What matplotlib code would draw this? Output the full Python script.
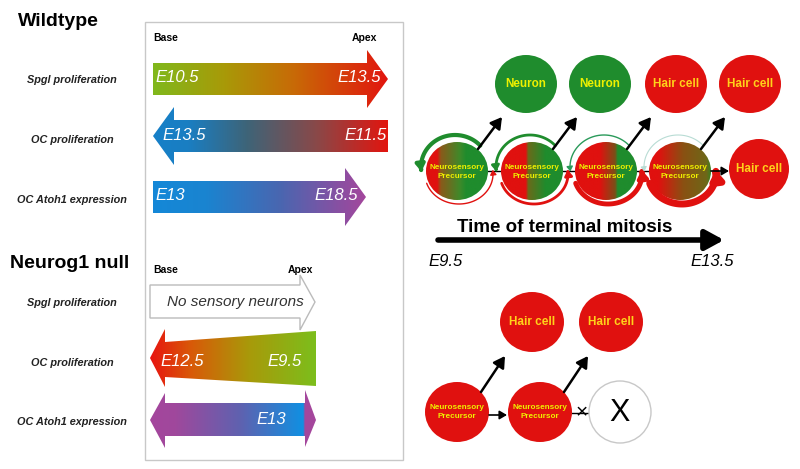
import numpy as np
import matplotlib
matplotlib.use('Agg')
import matplotlib.pyplot as plt
from matplotlib.patches import Polygon, Ellipse, Rectangle, FancyArrowPatch
from matplotlib.colors import LinearSegmentedColormap
from matplotlib.path import Path

plt.rcParams['font.family'] = ['Liberation Sans', 'DejaVu Sans']

# labels and stage values
row_labels = ['Spgl proliferation', 'OC proliferation', 'OC Atoh1 expression']
wt_stages = [('E10.5', 'E13.5'), ('E13.5', 'E11.5'), ('E13', 'E18.5')]
null_stages = [('E12.5', 'E9.5'), ('', 'E13')]
top_cells = ['Neuron', 'Neuron', 'Hair cell', 'Hair cell']
bottom_cells = ['Hair cell', 'Hair cell']
time_range = ['E9.5', 'E13.5']

RED = '#e0110f'
GREEN = '#1f8c2d'
YEL_N = '#eef000'
YEL_H = '#ffd21a'

fig = plt.figure(figsize=(8, 4.69), dpi=100)
ax = fig.add_axes([0, 0, 1, 1])
ax.axis('off')


def grad_poly(verts, stops, ec='none'):
    poly = Polygon(verts, closed=True, facecolor='none', edgecolor=ec, lw=1, zorder=3)
    ax.add_patch(poly)
    xs = [v[0] for v in verts]; ys = [v[1] for v in verts]
    cm = LinearSegmentedColormap.from_list('g', stops)
    im = ax.imshow(np.linspace(0, 1, 256).reshape(1, -1), cmap=cm, aspect='auto',
                   extent=(min(xs), max(xs), max(ys), min(ys)), zorder=2)
    im.set_clip_path(poly)


def grad_cell(cx, cy, rx, ry, stops):
    e = Ellipse((cx, cy), 2 * rx, 2 * ry, facecolor='none', edgecolor='none')
    ax.add_patch(e)
    cm = LinearSegmentedColormap.from_list('c', stops)
    im = ax.imshow(np.linspace(0, 1, 256).reshape(1, -1), cmap=cm, aspect='auto',
                   extent=(cx - rx, cx + rx, cy + ry, cy - ry), zorder=2)
    im.set_clip_path(e)


def cell(cx, cy, color, text, tcolor, fs=8.5, rx=31, ry=29):
    ax.add_patch(Ellipse((cx, cy), 2 * rx, 2 * ry, facecolor=color, edgecolor='none', zorder=2))
    ax.text(cx, cy, text, color=tcolor, fontsize=fs, fontweight='bold', ha='center', va='center',
            linespacing=1.35, zorder=5)


def arc(cx, cy, rx, ry, t0, t1, color, lw):
    t = np.radians(np.linspace(t0, t1, 60))
    verts = np.column_stack([cx + rx * np.cos(t), cy - ry * np.sin(t)])
    p = FancyArrowPatch(path=Path(verts), arrowstyle='-|>,head_length=0.45,head_width=0.3',
                        lw=lw, color=color, mutation_scale=5 + 1.2 * lw, zorder=4)
    ax.add_patch(p)


def arrow(x0, y0, x1, y1, lw=1.8, ms=12):
    ax.annotate('', xy=(x1, y1), xytext=(x0, y0), zorder=4,
                arrowprops=dict(arrowstyle='-|>,head_length=0.55,head_width=0.32', lw=lw,
                                color='k', mutation_scale=ms, shrinkA=0, shrinkB=0))


# ---- left panel
ax.add_patch(Rectangle((145, 22), 258, 438, facecolor='none', edgecolor='#c8c8c8', lw=1))
ax.text(18, 22, 'Wildtype', fontsize=14, fontweight='bold', va='center')
ax.text(10, 263, 'Neurog1 null', fontsize=14, fontweight='bold', va='center')
for x, y, s in [(153, 38, 'Base'), (352, 38, 'Apex'), (153, 270, 'Base'), (288, 270, 'Apex')]:
    ax.text(x, y, s, fontsize=7.5, fontweight='bold', va='center')
for y, lab in zip([80, 140, 200], row_labels):
    ax.text(72, y, lab, fontsize=7.8, fontweight='bold', style='italic', ha='center', va='center', color='#222')
for y, lab in zip([303, 363, 422], row_labels):
    ax.text(72, y, lab, fontsize=7.8, fontweight='bold', style='italic', ha='center', va='center', color='#222')

grad_poly([(153, 63), (367, 63), (367, 50), (388, 79), (367, 108), (367, 95), (153, 95)],
          [(0, '#80b81c'), (0.3, '#a89a08'), (0.6, '#c86a06'), (1, '#e2150f')])
grad_poly([(153, 136), (174, 107), (174, 120), (388, 120), (388, 152), (174, 152), (174, 165)],
          [(0, '#1680c8'), (0.15, '#1a7ec2'), (0.4, '#3e6478'), (0.7, '#8a4848'), (1, '#e2150f')])
grad_poly([(153, 181), (345, 181), (345, 168), (366, 197), (345, 226), (345, 213), (153, 213)],
          [(0, '#1488d8'), (0.25, '#1a84d0'), (0.6, '#4a66b0'), (1, '#a4469c')])
grad_poly([(150, 358), (165, 329), (165, 342), (316, 331), (316, 386), (165, 377), (165, 387)],
          [(0, '#e81410'), (0.25, '#d85a08'), (0.6, '#a89a0a'), (1, '#7cbe1c')])
grad_poly([(150, 420), (165, 393), (165, 403), (305, 403), (305, 390), (316, 420), (305, 447),
           (305, 436), (165, 436), (165, 448)],
          [(0, '#a4469c'), (0.15, '#a0489c'), (0.55, '#5e62b0'), (0.925, '#1090e2'),
           (0.935, '#a4469c'), (1, '#a4469c')])
ax.add_patch(Polygon([(150, 285), (300, 285), (300, 275), (315, 302), (300, 330), (300, 318), (150, 318)],
                     closed=True, facecolor='white', edgecolor='#bbbbbb', lw=1, zorder=3))
ax.text(235, 302, 'No sensory neurons', fontsize=11, style='italic', color='#333', ha='center', va='center', zorder=5)

ekw = dict(fontsize=12, style='italic', color='white', va='center', zorder=5)
for y, (a, b), xr in zip([78, 136, 196], wt_stages, [381, 387, 358]):
    ax.text(155 if y != 136 else 162, y, a, ha='left', **ekw)
    ax.text(xr, y, b, ha='right', **ekw)
ax.text(160, 362, null_stages[0][0], ha='left', **ekw)
ax.text(302, 362, null_stages[0][1], ha='right', **ekw)
ax.text(286, 420, null_stages[1][1], ha='right', **ekw)

# ---- right top: lineage
prec_x = [457, 532, 606, 680]
prec_stops = [
    [(0, RED), (0.18, RED), (0.24, '#8a5a1a'), (0.55, '#3e8a2a'), (0.65, GREEN), (1, GREEN)],
    [(0, RED), (0.4, RED), (0.44, '#6a6a1a'), (0.72, GREEN), (1, GREEN)],
    [(0, RED), (0.4, RED), (0.65, '#7a5018'), (0.69, GREEN), (1, GREEN)],
    [(0, RED), (0.15, RED), (0.55, '#8a5012'), (0.93, '#6e6818'), (1, '#3a8020')],
]
green_lw = [3, 2, 1, 0.8]
green_col = [GREEN, GREEN, '#2a9a5a', '#b8dcd4']
red_lw = [1, 2, 3.5, 5]
for x, st, gl, gc, rl in zip(prec_x, prec_stops, green_lw, green_col, red_lw):
    grad_cell(x, 171, 31, 29, st)
    ax.text(x, 172, 'Neurosensory\nPrecursor', fontsize=5.9, fontweight='bold', color=YEL_N,
            ha='center', va='center', linespacing=1.4, zorder=5)
    arc(x - 2, 167, 34, 32, 42, 188, gc, gl)
    arc(x + 2, 174, 34, 30, 198, 368, RED, rl)
    arrow(x + 21, 149, x + 45, 117)
for x0, x1 in [(488, 501), (563, 575), (637, 649)]:
    ax.plot([x0, x1], [171, 171], color='k', lw=1, zorder=1)
arrow(711, 171, 729, 171, lw=1.2, ms=8)

for x, lab in zip([526, 600, 676, 750], top_cells):
    if lab == 'Neuron':
        cell(x, 84, GREEN, lab, YEL_N, fs=8.4)
    else:
        cell(x, 84, RED, lab, YEL_H)
cell(759, 169, RED, 'Hair cell', YEL_H, ry=30, rx=30)

ax.text(565, 228, 'Time of terminal mitosis', fontsize=13.5, fontweight='bold', ha='center', va='center')
ax.annotate('', xy=(724, 240), xytext=(438, 240),
            arrowprops=dict(arrowstyle='-|>,head_length=0.55,head_width=0.3', lw=4, color='k',
                            mutation_scale=20, shrinkA=0, shrinkB=0))
ax.text(428, 262, time_range[0], fontsize=12, style='italic', ha='left', va='center')
ax.text(734, 262, time_range[1], fontsize=12, style='italic', ha='right', va='center')

# ---- right bottom: Neurog1 null lineage
for x, lab in zip([532, 611], bottom_cells):
    cell(x, 322, RED, lab, YEL_H, rx=32, ry=30)
for x in [457, 540]:
    cell(x, 412, RED, 'Neurosensory\nPrecursor', YEL_N, fs=5.9, rx=32, ry=30)
    arrow(x + 24, 392, x + 48, 356)
arrow(489, 415, 507, 415, lw=1.2, ms=8)
ax.plot([572, 590], [413, 413], color='k', lw=1, zorder=1)
ax.add_patch(Ellipse((620, 412), 62, 62, facecolor='white', edgecolor='#c8c8c8', lw=1, zorder=2))
ax.text(620, 413, 'X', fontsize=22, ha='center', va='center', zorder=5)
ax.text(582, 413, '×', fontsize=15, ha='center', va='center', zorder=5)

ax.set_xlim(0, 800)
ax.set_ylim(469, 0)
fig.savefig('out.png', dpi=100)
